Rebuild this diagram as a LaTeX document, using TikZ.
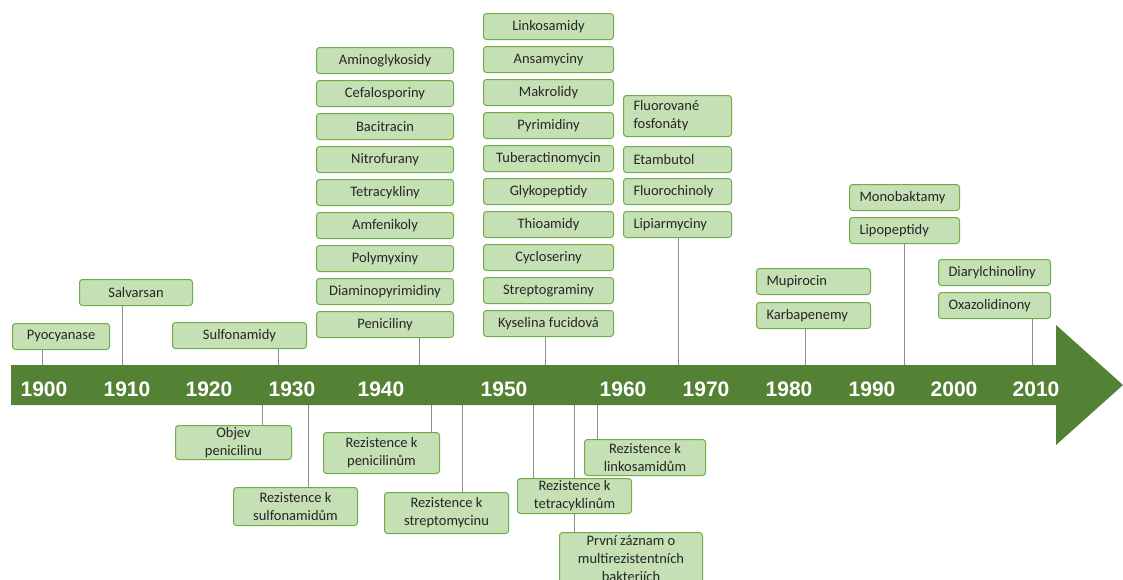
\documentclass[tikz,border=0pt]{standalone}
\usepackage{fontspec}
\setmainfont{Carlito}
\newfontfamily\yearfont{Liberation Sans}
\definecolor{arrowgreen}{HTML}{548235}
\definecolor{boxfill}{HTML}{C5E0B4}
\definecolor{boxline}{HTML}{70AD47}
\definecolor{stemgray}{HTML}{8C8C8C}
\definecolor{txt}{HTML}{262626}
\tikzset{
  drug/.style={draw=boxline, fill=boxfill, line width=1pt, rounded corners=3pt, minimum height=26pt, inner sep=0pt, anchor=north west, text=txt, font=\fontsize{14.5}{18}\selectfont},
  drugc/.style={drug, align=center},
  drugl/.style={drug, align=left, inner xsep=10pt},
  stem/.style={stemgray, line width=1pt},
  year/.style={text=white, font=\yearfont\bfseries\fontsize{21}{21}\selectfont}
}
\begin{document}
\begin{tikzpicture}[x=1pt,y=-1pt]
\clip (0,0) rectangle (1123,579);
% axis points for the stems
\coordinate (axtop) at (0,365);
\coordinate (axbot) at (0,405);
\foreach \n/\x in {pyo/42, salv/122, sulf/278, pen/419, fuc/545, lip/678, kar/805, lpp/904, oxa/1032}
  \coordinate (u\n) at (\x,365);
\foreach \n/\x in {obj/262, rsu/308, rpe/431, rst/462, rte/533, prv/574, rli/597}
  \coordinate (d\n) at (\x,405);

% above the axis
\node[drugc, minimum width=97pt] (pyo) at (12,323) {Pyocyanase};
\node[drugc, minimum width=113pt] (salv) at (79,279) {Salvarsan};
\node[drugc, minimum width=134pt] (sulf) at (172,322) {Sulfonamidy};
\foreach \nm [count=\i] in {Aminoglykosidy, Cefalosporiny, Bacitracin, Nitrofurany, Tetracykliny, Amfenikoly, Polymyxiny, Diaminopyrimidiny, Peniciliny}
  \node[drugc, minimum width=137pt] (ka\i) at (316,{47+33*(\i-1)}) {\nm};
\foreach \nm [count=\i] in {Linkosamidy, Ansamyciny, Makrolidy, Pyrimidiny, Tuberactinomycin, Glykopeptidy, Thioamidy, Cycloseriny, Streptograminy, Kyselina fucidová}
  \node[drugc, minimum width=130pt] (kb\i) at (483,{13+33*(\i-1)}) {\nm};
\node[drugl, text width=88pt, minimum height=41pt] (fluor) at (623,95) {Fluorované\\fosfonáty};
\node[drugl, text width=88pt] (etam) at (623,146) {Etambutol};
\node[drugl, text width=88pt] (fchin) at (623,178) {Fluorochinoly};
\node[drugl, text width=88pt] (lip) at (623,211) {Lipiarmyciny};
\node[drugl, text width=94pt] (mup) at (756,268) {Mupirocin};
\node[drugl, text width=94pt] (kar) at (756,302) {Karbapenemy};
\node[drugl, text width=90pt] (mono) at (849,184) {Monobaktamy};
\node[drugl, text width=90pt] (lpp) at (849,217) {Lipopeptidy};
\node[drugl, text width=92pt] (diar) at (938,259) {Diarylchinoliny};
\node[drugl, text width=92pt] (oxa) at (938,292) {Oxazolidinony};

% below the axis
\draw[stem] (dobj) -- (dobj |- 0,425);
\draw[stem] (drsu) -- (drsu |- 0,487);
\draw[stem] (drpe) -- (drpe |- 0,432);
\draw[stem] (drst) -- (drst |- 0,492);
\draw[stem] (drte) -- (drte |- 0,478);
\draw[stem] (dprv) -- (dprv |- 0,532);
\draw[stem] (drli) -- (drli |- 0,439);
\node[drugc, minimum width=116pt, minimum height=34pt] (obj) at (175,425) {Objev\\penicilinu};
\node[drugc, minimum width=124pt, minimum height=38pt] (rsu) at (233,487) {Rezistence k\\sulfonamidům};
\node[drugc, minimum width=116pt, minimum height=41pt] (rpe) at (323,432) {Rezistence k\\penicilinům};
\node[drugc, minimum width=124pt, minimum height=41pt] (rst) at (384,492) {Rezistence k\\streptomycinu};
\node[drugc, minimum width=114pt, minimum height=35pt] (rte) at (517,478) {Rezistence k\\tetracyklinům};
\node[drugc, minimum width=121pt, minimum height=36pt] (rli) at (584,439) {Rezistence k\\linkosamidům};
\node[drugc, minimum width=143pt, minimum height=52pt] (prv) at (559,532) {První záznam o\\multirezistentních\\bakteriích};

% stems above
\draw[stem] (pyo.south -| upyo) -- (upyo);
\draw[stem] (salv.south -| usalv) -- (usalv);
\draw[stem] (sulf.south -| usulf) -- (usulf);
\draw[stem] (ka9.south -| upen) -- (upen);
\draw[stem] (kb10.south -| ufuc) -- (ufuc);
\draw[stem] (lip.south -| ulip) -- (ulip);
\draw[stem] (kar.south -| ukar) -- (ukar);
\draw[stem] (lpp.south -| ulpp) -- (ulpp);
\draw[stem] (oxa.south -| uoxa) -- (uoxa);

% the arrow
\fill[arrowgreen] (11,365) -- (1056,365) -- (1056,325) -- (1123,385) -- (1056,445) -- (1056,405) -- (11,405) -- cycle;
\foreach \yr/\x in {1900/44, 1910/127, 1920/209, 1930/292, 1940/381, 1950/504, 1960/623, 1970/706, 1980/789, 1990/872, 2000/954, 2010/1036}
  \node[year] (y\yr) at (\x,389) {\yr};
\end{tikzpicture}
\end{document}
